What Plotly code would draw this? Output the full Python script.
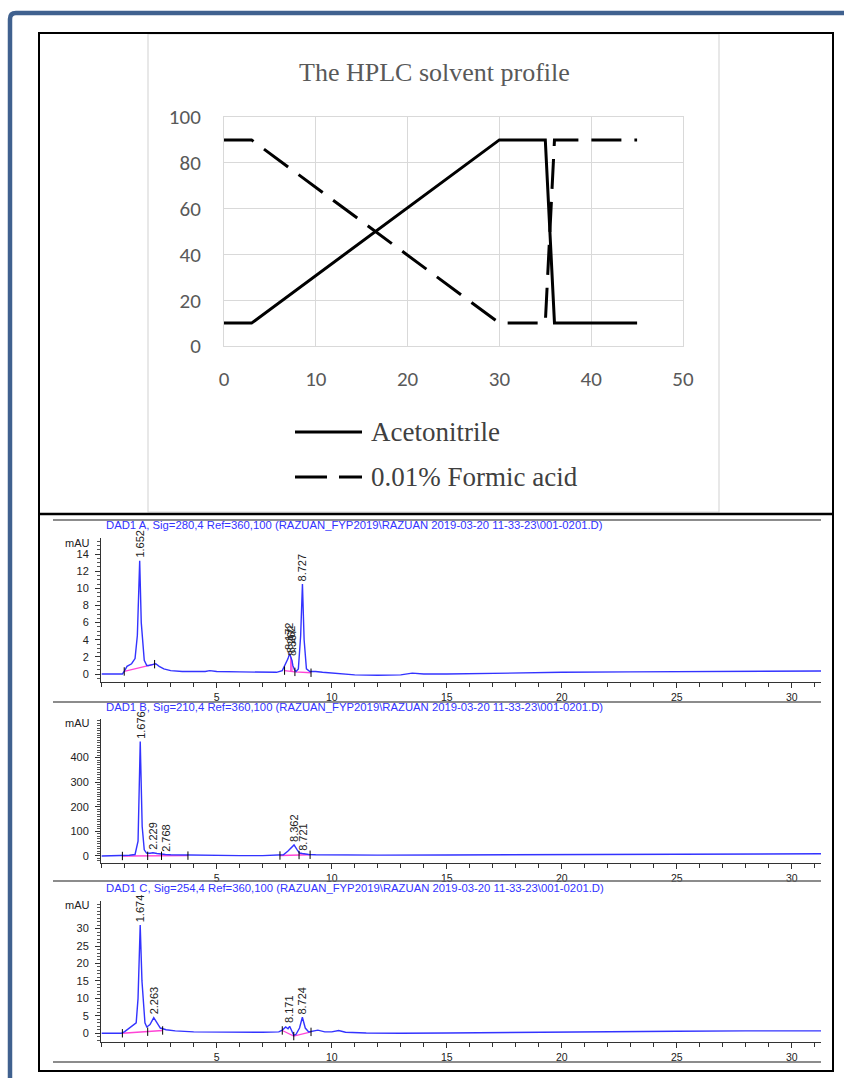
import plotly.graph_objects as go

W, H = 844, 1078


def px_x(p):
    return p / W


def px_y(p):
    return 1 - p / H


# ---------------- solvent profile (top chart) ----------------
profile_time = [0, 3, 30, 35, 36, 45]
acetonitrile = [10, 10, 90, 90, 10, 10]
formic_acid = [90, 90, 10, 10, 90, 90]
profile_xticks = [0, 10, 20, 30, 40, 50]
profile_yticks = [0, 20, 40, 60, 80, 100]
legend_names = ["Acetonitrile", "0.01% Formic acid"]

# ---------------- chromatograms ----------------
chrom_titles = [
    "DAD1 A, Sig=280,4 Ref=360,100 (RAZUAN_FYP2019\\RAZUAN 2019-03-20 11-33-23\\001-0201.D)",
    "DAD1 B, Sig=210,4 Ref=360,100 (RAZUAN_FYP2019\\RAZUAN 2019-03-20 11-33-23\\001-0201.D)",
    "DAD1 C, Sig=254,4 Ref=360,100 (RAZUAN_FYP2019\\RAZUAN 2019-03-20 11-33-23\\001-0201.D)",
]
time_ticks = [5, 10, 15, 20, 25, 30]

# Signal A (280 nm)
A_time = [0, 0.9, 0.98, 1.1, 1.3, 1.45, 1.55, 1.652, 1.72, 1.85, 1.96, 2.05, 2.2, 2.35, 2.5, 2.7, 3.0,
          3.5, 4.0, 4.5, 4.7, 5.0, 6.0, 7.0, 7.6, 7.85, 8.0, 8.1, 8.17, 8.22, 8.27, 8.31, 8.38, 8.45,
          8.55, 8.65, 8.727, 8.8, 8.9, 9.05, 9.3, 9.6, 10.0, 11.0, 12.0, 13.0, 13.5, 14.0, 15.0, 17.0,
          20.0, 23.0, 26.0, 29.0, 31.3]
A_signal = [0, 0, 0.3, 0.9, 1.2, 1.8, 4.5, 13.2, 6.0, 1.6, 1.0, 1.0, 1.1, 1.2, 0.9, 0.6, 0.4,
            0.3, 0.3, 0.3, 0.4, 0.3, 0.25, 0.25, 0.2, 0.4, 1.2, 1.8, 2.4, 2.0, 1.6, 1.0, 0.5, 0.3,
            0.6, 4.5, 10.5, 4.0, 0.6, 0.3, 0.3, 0.2, 0.1, -0.1, -0.15, -0.1, 0.1, 0.0, 0.0, 0.1,
            0.2, 0.25, 0.3, 0.3, 0.35]
A_base_time = [0.98, 2.3, None, 7.95, 8.4, 9.1, None, 8.22, 8.22, None, 8.27, 8.27]
A_base_signal = [0.3, 1.15, None, 0.4, 0.25, 0.15, None, 0.35, 2.0, None, 0.3, 1.6]
A_mark_time = [0.98, 2.3, 7.95, 8.4, 9.1]
A_mark_signal = [0.3, 1.15, 0.4, 0.25, 0.15]
A_peak_names = ["1.652", "8.172", "8.262", "8.307", "8.727"]
A_peak_time = [1.652, 8.17, 8.24, 8.3, 8.727]
A_peak_height = [13.2, 2.4, 2.1, 1.7, 10.5]

# Signal B (210 nm)
B_time = [0, 0.85, 0.95, 1.2, 1.45, 1.58, 1.676, 1.76, 1.85, 1.95, 2.1, 2.229, 2.4, 2.6, 2.768, 3.0,
          3.5, 4.0, 5.0, 6.0, 7.0, 7.7, 7.9, 8.1, 8.25, 8.362, 8.5, 8.6, 8.721, 8.85, 9.0, 9.3, 10.0,
          12.0, 15.0, 20.0, 25.0, 28.0, 31.3]
B_signal = [0, 0, 1, 3, 6, 60, 465, 120, 25, 12, 11, 13, 10, 7, 6, 5,
            4, 3, 2, 1.5, 1.5, 2, 5, 20, 36, 45, 25, 12, 10, 8, 6, 5, 4,
            3.5, 4, 5, 7, 8, 9]
B_base_time = [0.9, 3.75, None, 7.75, 9.06]
B_base_signal = [0, 1.5, None, 2, 5]
B_mark_time = [0.9, 2.0, 2.6, 3.75, 7.75, 8.58, 9.06]
B_mark_signal = [0, 0.6, 0.9, 1.5, 2, 4, 5]
B_peak_names = ["1.676", "2.229", "2.768", "8.362", "8.721"]
B_peak_time = [1.676, 2.229, 2.768, 8.362, 8.721]
B_peak_height = [465, 13, 6, 45, 10]

# Signal C (254 nm)
C_time = [0, 0.85, 1.0, 1.2, 1.4, 1.5, 1.58, 1.674, 1.75, 1.88, 1.96, 2.1, 2.263, 2.4, 2.55, 2.8,
          3.2, 4.0, 5.0, 6.0, 7.0, 7.7, 7.85, 8.0, 8.1, 8.171, 8.25, 8.35, 8.45, 8.6, 8.724, 8.85,
          9.0, 9.2, 9.4, 9.7, 10.0, 10.3, 10.6, 11.5, 13.0, 15.0, 18.0, 21.0, 25.0, 28.0, 31.3]
C_signal = [0, 0, 0.5, 1.5, 2.3, 3.0, 10, 31, 15, 3, 1.8, 2.5, 4.5, 3.0, 1.5, 1.0,
            0.7, 0.4, 0.3, 0.3, 0.3, 0.4, 0.9, 1.8, 1.3, 2.0, 1.0, -0.6, -0.3, 1.5, 4.6, 1.5,
            0.4, 0.6, 0.9, 0.4, 0.4, 0.8, 0.3, 0.1, 0.0, 0.1, 0.3, 0.5, 0.6, 0.7, 0.7]
C_base_time = [0.9, 2.0, 2.65, None, 7.85, 8.35, 9.1]
C_base_signal = [0, 0.45, 0.8, None, 0.8, -0.8, 0.4]
C_mark_time = [0.9, 2.0, 2.65, 7.85, 8.35, 9.1]
C_mark_signal = [0, 0.45, 0.8, 0.8, -0.8, 0.4]
C_peak_names = ["1.674", "2.263", "8.171", "8.724"]
C_peak_time = [1.674, 2.263, 8.171, 8.724]
C_peak_height = [31, 4.5, 2.0, 4.6]

chrom_time = [A_time, B_time, C_time]
chrom_signal = [A_signal, B_signal, C_signal]
chrom_base_time = [A_base_time, B_base_time, C_base_time]
chrom_base_signal = [A_base_signal, B_base_signal, C_base_signal]
chrom_mark_time = [A_mark_time, B_mark_time, C_mark_time]
chrom_mark_signal = [A_mark_signal, B_mark_signal, C_mark_signal]
chrom_peak_names = [A_peak_names, B_peak_names, C_peak_names]
chrom_peak_time = [A_peak_time, B_peak_time, C_peak_time]
chrom_peak_height = [A_peak_height, B_peak_height, C_peak_height]
chrom_yticks = [[0, 2, 4, 6, 8, 10, 12, 14], [0, 100, 200, 300, 400], [0, 5, 10, 15, 20, 25, 30]]

# ---------------- layout geometry (pixels) ----------------
chrom_yrange = [[-0.93, 15.87], [-28.5, 557], [-2.5, 37.9]]
chrom_minor = [0.5, 10, 1]
chrom_top = [538, 719, 901]
chrom_bottom = [682, 863, 1042]
chrom_sep = [520, 702, 881, 1062]
chrom_title_y = [525, 707, 888]
chrom_mau_y = [543, 723, 905]

ARIAL = "Arial, Liberation Sans, sans-serif"
TIMES = "Times New Roman, Liberation Serif, serif"
CALIBRI = "Calibri, Carlito, Lato, sans-serif"
BLUE = "#3333FF"
PINK = "#FF44D6"

fig = go.Figure()

# top chart traces
fig.add_trace(go.Scatter(x=profile_time, y=acetonitrile, mode="lines", name=legend_names[0],
                         line=dict(color="black", width=3), xaxis="x", yaxis="y"))
fig.add_trace(go.Scatter(x=profile_time, y=formic_acid, mode="lines", name=legend_names[1],
                         line=dict(color="black", width=3, dash="30px,13px"), xaxis="x", yaxis="y"))

annotations = []
shapes = []

for i in range(3):
    xa = "x%d" % (i + 2)
    ya = "y%d" % (i + 2)
    fig.add_trace(go.Scatter(x=chrom_base_time[i], y=chrom_base_signal[i], mode="lines",
                             line=dict(color=PINK, width=1.3), xaxis=xa, yaxis=ya,
                             connectgaps=False))
    fig.add_trace(go.Scatter(x=chrom_time[i], y=chrom_signal[i], mode="lines",
                             line=dict(color=BLUE, width=1.4), xaxis=xa, yaxis=ya))
    fig.add_trace(go.Scatter(x=chrom_mark_time[i], y=chrom_mark_signal[i], mode="markers",
                             marker=dict(symbol="line-ns", size=6,
                                         line=dict(color="black", width=1)),
                             xaxis=xa, yaxis=ya))
    for name, t, h in zip(chrom_peak_names[i], chrom_peak_time[i], chrom_peak_height[i]):
        annotations.append(dict(x=t, y=h, xref=xa, yref=ya, text=name, showarrow=False,
                                textangle=-90, xanchor="center", yanchor="bottom", yshift=1,
                                font=dict(family=ARIAL, size=11, color="#222222")))
    annotations.append(dict(x=px_x(104), y=px_y(chrom_title_y[i]), xref="paper", yref="paper",
                            text=chrom_titles[i], showarrow=False, xanchor="left",
                            yanchor="middle", font=dict(family=ARIAL, size=11.3, color=BLUE)))
    annotations.append(dict(x=px_x(92), y=px_y(chrom_mau_y[i]), xref="paper", yref="paper",
                            text="mAU", showarrow=False, xanchor="right", yanchor="middle",
                            font=dict(family=ARIAL, size=11, color="#222222")))

# figure annotations for top chart
annotations.append(dict(x=px_x(434), y=px_y(72), xref="paper", yref="paper",
                        text="The HPLC solvent profile", showarrow=False,
                        xanchor="center", yanchor="middle",
                        font=dict(family=TIMES, size=26, color="#595959")))
for name, ly in zip(legend_names, [432, 477]):
    annotations.append(dict(x=px_x(369), y=px_y(ly), xref="paper", yref="paper", text=name,
                            showarrow=False, xanchor="left", yanchor="middle",
                            font=dict(family=TIMES, size=27, color="#404040")))

# decorative frame and table borders
shapes.append(dict(type="rect", xref="paper", yref="paper", x0=px_x(148), x1=px_x(719),
                   y0=px_y(512), y1=px_y(34), line=dict(color="#D9D9D9", width=1.2)))
shapes.append(dict(type="path", xref="paper", yref="paper",
                   path="M %f,%f L %f,%f Q %f,%f %f,%f L %f,%f" % (
                       px_x(10), px_y(1078), px_x(10), px_y(19), px_x(10), px_y(13),
                       px_x(16), px_y(13), px_x(844), px_y(13)),
                   line=dict(color="#40618F", width=4.5)))
shapes.append(dict(type="rect", xref="paper", yref="paper", x0=px_x(39), x1=px_x(833),
                   y0=px_y(1071), y1=px_y(33), line=dict(color="black", width=2)))
shapes.append(dict(type="line", xref="paper", yref="paper", x0=px_x(39), x1=px_x(833),
                   y0=px_y(514), y1=px_y(514), line=dict(color="black", width=2.5)))
for sy in chrom_sep:
    shapes.append(dict(type="line", xref="paper", yref="paper", x0=px_x(53), x1=px_x(821),
                       y0=px_y(sy), y1=px_y(sy), line=dict(color="#666666", width=1.4)))
# legend samples
shapes.append(dict(type="line", xref="paper", yref="paper", x0=px_x(295), x1=px_x(362),
                   y0=px_y(432), y1=px_y(432), line=dict(color="black", width=3)))
shapes.append(dict(type="line", xref="paper", yref="paper", x0=px_x(295), x1=px_x(362),
                   y0=px_y(477), y1=px_y(477), line=dict(color="black", width=3, dash="32px,12px")))

layout = dict(
    width=W, height=H, margin=dict(l=0, r=0, t=0, b=0, pad=0, autoexpand=False),
    showlegend=False, paper_bgcolor="white", plot_bgcolor="rgba(0,0,0,0)",
    annotations=annotations, shapes=shapes,
    xaxis=dict(domain=[px_x(224), px_x(683)], range=[0, 50], anchor="y", automargin=False,
               tickvals=profile_xticks, showgrid=True, gridcolor="#D9D9D9", gridwidth=1,
               zeroline=False, showline=True, mirror=True, linecolor="#D9D9D9", linewidth=1,
               ticks="", ticklabelstandoff=14,
               tickfont=dict(family=CALIBRI, size=21, color="#595959")),
    yaxis=dict(domain=[px_y(346), px_y(117)], range=[0, 100], anchor="x", automargin=False,
               tickvals=profile_yticks, showgrid=True, gridcolor="#D9D9D9", gridwidth=1,
               zeroline=False, showline=True, mirror=True, linecolor="#D9D9D9", linewidth=1,
               ticks="", ticklabelstandoff=18,
               tickfont=dict(family=CALIBRI, size=21, color="#595959")),
)
for i in range(3):
    layout["xaxis%d" % (i + 2)] = dict(
        domain=[px_x(101), px_x(821)], range=[-0.03, 31.27], anchor="y%d" % (i + 2),
        automargin=False, tickvals=time_ticks, ticks="outside", ticklen=5,
        tickcolor="#333333", tickwidth=1,
        minor=dict(dtick=1, tick0=0, ticks="outside", ticklen=4, tickcolor="#333333", showgrid=False),
        showgrid=False, zeroline=False, showline=True, linecolor="#333333", linewidth=1,
        tickfont=dict(family=ARIAL, size=10.5, color="#222222"), ticklabelstandoff=0)
    layout["yaxis%d" % (i + 2)] = dict(
        domain=[px_y(chrom_bottom[i]), px_y(chrom_top[i])], range=chrom_yrange[i],
        anchor="x%d" % (i + 2), automargin=False, tickvals=chrom_yticks[i], ticks="outside",
        ticklen=5, tickcolor="#333333", tickwidth=1, ticklabelstandoff=4,
        minor=dict(dtick=chrom_minor[i], tick0=0, ticks="outside", ticklen=3,
                   tickcolor="#555555", showgrid=False),
        showgrid=False, zeroline=False, showline=True, linecolor="#333333", linewidth=1,
        tickfont=dict(family=ARIAL, size=11, color="#222222"))

fig.update_layout(**layout)
fig.write_html(
    "out.html",
    config={"displayModeBar": False},
    post_script="document.body.style.margin='0px';document.body.style.padding='0px';"
                "document.documentElement.style.overflow='hidden';",
)
